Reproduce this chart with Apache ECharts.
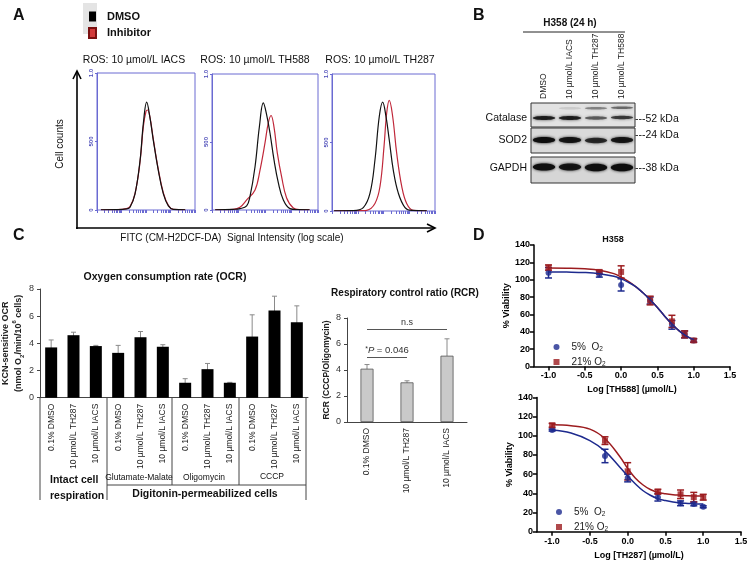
<!DOCTYPE html>
<html>
<head>
<meta charset="utf-8">
<script src="https://cdn.jsdelivr.net/npm/echarts@6/dist/echarts.min.js"></script>
<style>html,body{margin:0;padding:0;background:#fff}#c{width:750px;height:563px}</style>
</head>
<body>
<div id="c"></div>
<script>
// ---------------- DATA ----------------
// Panel A: flow histograms (x = relative log-channel position 0-100, y = cell counts)
const histIacsDmso = [[4,2],[20,3],[30,8],[33.7,20],[38.8,118],[43.9,360],[47.3,632],[50.7,787],[54,676],[57.5,507],[62.6,287],[67.7,118],[72.8,30],[77.9,5],[90,2]];
const histIacsInh  = [[4,2],[20,3],[30,10],[33.7,25],[38.8,120],[43.9,350],[47.3,610],[50,720],[51.5,730],[54,680],[57.5,515],[62.6,295],[67.7,125],[72.8,35],[77.9,5],[90,2]];
const histTh588Dmso = [[3,2],[20,5],[26.4,10],[32.7,30],[35.8,98],[40.6,318],[44.7,612],[48.4,787],[51.6,698],[54.7,566],[58.5,368],[62.6,199],[67.3,74],[73.6,10],[79.9,3],[92,2]];
const histTh588Inh  = [[3,2],[20,5],[26.4,20],[32.7,74],[40.6,147],[45.3,294],[50,493],[53.1,640],[55.7,695],[58.5,610],[61.6,420],[65.7,243],[70.4,88],[76.7,15],[83,3],[92,2]];
const histTh287Dmso = [[2,2],[20.7,3],[30.4,25],[36.9,130],[41.7,372],[45.9,690],[49.2,794],[52.4,690],[55.6,518],[59.5,298],[64.4,130],[70.9,25],[77.4,4],[92,2]];
const histTh287Inh  = [[2,2],[30,3],[33.7,5],[41.7,55],[46.6,180],[50.5,470],[53.1,715],[55.6,807],[58.9,690],[62.8,422],[67.7,180],[72.5,55],[78.9,5],[92,2]];
const histTitles = ['ROS: 10 µmol/L IACS','ROS: 10 µmol/L TH588','ROS: 10 µmol/L TH287'];
const logTicks = [1,2,3,4,5,6,7,8,9,10,20,30,40,50,60,70,80,90,100,200,300,400,500,600,700,800,900,1000,2000,3000,4000,5000,6000,7000,8000,9000,10000];

// Panel B: western blot (lane, band position 0-1, intensity, thickness px)
const blotLanes = ['DMSO','10 µmol/L IACS','10 µmol/L TH287','10 µmol/L TH588'];
const blotRows = ['Catalase','SOD2','GAPDH'];
const blotMarkers = ['---52 kDa','---24 kDa','---38 kDa'];
const catalaseBands = [[0,0.37,0.85,4],[1,0.37,0.85,4],[2,0.37,0.55,3.5],[3,0.40,0.7,3.5],[1,0.78,0.1,2.5],[2,0.78,0.4,2.5],[3,0.80,0.5,2.5]];
const sod2Bands = [[0,0.52,1.0,6],[1,0.52,0.92,6],[2,0.50,0.78,5.5],[3,0.52,0.9,6]];
const gapdhBands = [[0,0.62,1.0,7],[1,0.62,0.92,7],[2,0.60,1.0,7.5],[3,0.60,1.0,7.5]];

// Panel C: OCR
const ocrCats = ['0.1% DMSO','10 µmol/L TH287','10 µmol/L IACS','0.1% DMSO','10 µmol/L TH287','10 µmol/L IACS','0.1% DMSO','10 µmol/L TH287','10 µmol/L IACS','0.1% DMSO','10 µmol/L TH287','10 µmol/L IACS'];
const ocrValues = [3.7,4.6,3.8,3.3,4.45,3.75,1.1,2.1,1.1,4.5,6.42,5.56];
const ocrSD     = [0.55,0.22,0.05,0.55,0.42,0.15,0.3,0.42,0.03,1.6,1.05,1.2];
const ocrGroups = ['Glutamate-Malate','Oligomycin','CCCP'];
// Panel C: RCR
const rcrCats = ['0.1% DMSO','10 µmol/L TH287','10 µmol/L IACS'];
const rcrValues = [4.1,3.05,5.1];
const rcrSD = [0.32,0.12,1.3];

// Panel D
const doseX = [-1,-0.3,0,0.4,0.7,0.875,1.0];
const th588Mean5  = [108,106,94,76,48,37,30];
const th588Sd5    = [6,3,7,4,5,4,2];
const th588Mean21 = [114,109,109,76,52,37,30];
const th588Sd21   = [3,2,7,5,7,4,2];
const fitX = [-1,-0.75,-0.5,-0.3,-0.1,0,0.1,0.2,0.3,0.4,0.5,0.6,0.7,0.8,0.9,1.0];
const th588Fit5  = [109,108.8,108.3,107,104,101,97,92,85,77,68,58,49,41,35,31];
const th588Fit21 = [113.5,113.2,112.5,111,107,103,98,92,85,77,68,58,49,41,35,31];
const th287Mean5  = [106,79,56,36,29.6,29,26];
const th287Sd5    = [1,7,4,4,2.5,2,1];
const th287Mean21 = [111,95,63,41.7,39,36,36];
const th287Sd21   = [2,4,9,2.5,4.5,5,3];
const th287Fit5  = [106,103,95,84,67,58,50,43,38,34.5,32.5,31,30,29.5,29,28.8];
const th287Fit21 = [111.5,110.5,107,97,78,66,56,49,44,41,39.5,38.5,38,37.5,37.3,37.2];
const dTicks = [-1,-0.5,0,0.5,1,1.5];

// ---------------- STYLE ----------------
const F = '"Liberation Sans", Arial, Helvetica, sans-serif';
const BLUEF = '#6a6ad2';
const BLK = '#111';
const REDH = '#c0283a';
const DBLUE = '#1d2a8e';
const DRED = '#9c1c1f';

function errBar(color, cap, lw) {
  return function (params, api) {
    const x = api.value(0), lo = api.value(1), hi = api.value(2);
    const a = api.coord([x, lo]), b = api.coord([x, hi]);
    const st = {stroke: color, lineWidth: lw};
    return {type: 'group', children: [
      {type: 'line', shape: {x1: a[0], y1: a[1], x2: b[0], y2: b[1]}, style: st},
      {type: 'line', shape: {x1: a[0] - cap / 2, y1: a[1], x2: a[0] + cap / 2, y2: a[1]}, style: st},
      {type: 'line', shape: {x1: b[0] - cap / 2, y1: b[1], x2: b[0] + cap / 2, y2: b[1]}, style: st}
    ]};
  };
}
function bandRender(params, api) {
  const lane = api.value(0), pos = api.value(1), inten = api.value(2), th = api.value(3);
  const c = api.coord([lane, pos]);
  const w = api.size([1, 0])[0] * 0.86;
  const col = 'rgba(14,14,14,' + inten + ')';
  return {type: 'ellipse', shape: {cx: c[0], cy: c[1], rx: w / 2, ry: th / 2},
    style: {fill: col, shadowBlur: 3, shadowColor: col}};
}
function errData(xs, means, sds) { return means.map((m, i) => [xs[i], m - sds[i], m + sds[i]]); }
function pairs(xs, ys) { return ys.map((y, i) => [xs[i], y]); }

// grids
const grids = [
  {left: 97, top: 73, width: 98, height: 137},
  {left: 212, top: 74, width: 106, height: 136},
  {left: 332, top: 74, width: 103, height: 137},
  {left: 531, top: 103, width: 104, height: 24},
  {left: 531, top: 128, width: 104, height: 25},
  {left: 531, top: 157, width: 104, height: 26},
  {left: 40, top: 289, width: 268, height: 108.7},
  {left: 347, top: 318, width: 120, height: 104},
  {left: 534, top: 245, width: 196, height: 121.5},
  {left: 537, top: 397.5, width: 204, height: 134.2}
].map((g, i) => Object.assign({outerBoundsMode: 'none', containLabel: false}, g,
  i < 3 ? {show: true, borderColor: BLUEF, borderWidth: 1} :
  i < 6 ? {show: true, borderColor: '#333', borderWidth: 1, backgroundColor: i === 3 ? '#e2e2e2' : (i === 4 ? '#dadada' : '#d6d6d6')} : {}));

const xAxis = [], yAxis = [];
for (let i = 0; i < 3; i++) {
  xAxis.push({type: 'value', gridIndex: i, min: 0, max: 100, show: false, position: 'top'});
  xAxis.push({type: 'log', gridIndex: i, min: 1, max: 10000, position: 'bottom', logBase: 10,
    axisLine: {show: false}, axisLabel: {show: false}, splitLine: {show: false}, minorTick: {show: false},
    axisTick: {show: true, inside: false, length: 3, customValues: logTicks, lineStyle: {color: BLUEF, width: 1}}});
  yAxis.push({type: 'value', gridIndex: i, min: 0, max: 1000, interval: 500,
    axisLine: {show: true, onZero: false, lineStyle: {color: BLUEF}}, splitLine: {show: false},
    axisTick: {show: true, length: 2, lineStyle: {color: BLUEF}},
    axisLabel: {rotate: 90, fontSize: 6, fontWeight: 'bold', color: '#4a4ab8', margin: 3, fontFamily: F,
      formatter: v => v === 1000 ? '1.0' : String(v)}});
}
// blots
for (let i = 0; i < 3; i++) {
  xAxis.push({type: 'category', gridIndex: 3 + i, data: blotLanes, position: 'top',
    axisLine: {show: false}, axisTick: {show: false}, splitLine: {show: false},
    axisLabel: {show: i === 0, rotate: 90, fontSize: 8.5, color: '#222', margin: 4, fontFamily: F}});
  yAxis.push({type: 'value', gridIndex: 3 + i, min: 0, max: 1, show: false});
}
// OCR
xAxis.push({type: 'category', gridIndex: 6, data: ocrCats,
  axisLine: {lineStyle: {color: '#444', width: 1}}, axisTick: {show: false},
  axisLabel: {rotate: 90, fontSize: 8.5, color: '#222', margin: 6, fontFamily: F, interval: 0}});
yAxis.push({type: 'value', gridIndex: 6, min: 0, max: 8, interval: 2,
  axisLine: {show: true, lineStyle: {color: '#444'}}, axisTick: {show: true, length: 3, lineStyle: {color: '#444'}},
  splitLine: {show: false}, axisLabel: {fontSize: 9, color: '#333', margin: 6, fontFamily: F},
  name: '{b|KCN-sensitive OCR}\n{b|(nmol O}{s|2}{b|/min/10}{p|6}{b| cells)}', nameLocation: 'middle', nameGap: 13,
  nameTextStyle: {fontFamily: F, lineHeight: 11, rich: {
    b: {fontWeight: 'bold', fontSize: 9, fontFamily: F, color: '#222'},
    s: {fontWeight: 'bold', fontSize: 6, fontFamily: F, color: '#222', verticalAlign: 'bottom', lineHeight: 8},
    p: {fontWeight: 'bold', fontSize: 6, fontFamily: F, color: '#222', verticalAlign: 'top', lineHeight: 14}}}});
// RCR
xAxis.push({type: 'category', gridIndex: 7, data: rcrCats,
  axisLine: {lineStyle: {color: '#444', width: 1}}, axisTick: {show: false},
  axisLabel: {rotate: 90, fontSize: 8.5, color: '#222', margin: 6, fontFamily: F, interval: 0}});
yAxis.push({type: 'value', gridIndex: 7, min: 0, max: 8, interval: 2,
  axisLine: {show: true, lineStyle: {color: '#444'}}, axisTick: {show: true, length: 3, lineStyle: {color: '#444'}},
  splitLine: {show: false}, axisLabel: {fontSize: 9, color: '#333', margin: 6, fontFamily: F},
  name: 'RCR (CCCP/Oligomycin)', nameLocation: 'middle', nameGap: 16,
  nameTextStyle: {fontFamily: F, fontWeight: 'bold', fontSize: 8.5, color: '#222'}});
// D
[['Log [TH588] (µmol/L)', 8], ['Log [TH287] (µmol/L)', 9]].forEach(([nm, gi], k) => {
  xAxis.push({type: 'value', gridIndex: gi, min: -1.2, max: 1.5,
    axisLine: {show: true, onZero: false, lineStyle: {color: '#000', width: 1.5}},
    axisTick: {show: true, length: 4, customValues: dTicks, lineStyle: {color: '#000', width: 1.5}},
    axisLabel: {customValues: dTicks, fontSize: 9, fontWeight: 'bold', color: '#000', margin: 5, fontFamily: F,
      formatter: v => v.toFixed(1)},
    splitLine: {show: false},
    name: nm, nameLocation: 'middle', nameGap: 19,
    nameTextStyle: {fontFamily: F, fontWeight: 'bold', fontSize: 9, color: '#000'}});
  yAxis.push({type: 'value', gridIndex: gi, min: 0, max: 140, interval: 20,
    axisLine: {show: true, onZero: false, lineStyle: {color: '#000', width: 1.5}},
    axisTick: {show: true, length: 4, lineStyle: {color: '#000', width: 1.5}},
    axisLabel: {fontSize: 9, fontWeight: 'bold', color: '#000', margin: 4, fontFamily: F},
    splitLine: {show: false},
    name: '% Viability', nameLocation: 'middle', nameGap: 21,
    nameTextStyle: {fontFamily: F, fontWeight: 'bold', fontSize: 9, color: '#000'}});
});

// series
const series = [];
const hists = [[histIacsDmso, histIacsInh], [histTh588Dmso, histTh588Inh], [histTh287Dmso, histTh287Inh]];
hists.forEach(([d, r], i) => {
  series.push({type: 'line', name: 'Inhibitor', xAxisIndex: 2 * i, yAxisIndex: i, data: r, showSymbol: false,
    smooth: 0.4, lineStyle: {color: REDH, width: 1.2}, itemStyle: {color: '#d23a3a', borderColor: '#7a1010', borderWidth: 0.8}, silent: true});
  series.push({type: 'line', name: 'DMSO', xAxisIndex: 2 * i, yAxisIndex: i, data: d, showSymbol: false,
    smooth: 0.4, lineStyle: {color: BLK, width: 1.2}, itemStyle: {color: '#000'}, silent: true});
});
[catalaseBands, sod2Bands, gapdhBands].forEach((b, i) => {
  series.push({type: 'custom', xAxisIndex: 6 + i, yAxisIndex: 3 + i, data: b, renderItem: bandRender,
    encode: {x: 0, y: 1}, silent: true});
});
series.push({type: 'bar', xAxisIndex: 9, yAxisIndex: 6, data: ocrValues, barWidth: 12,
  itemStyle: {color: '#000'}, silent: true});
series.push({type: 'custom', xAxisIndex: 9, yAxisIndex: 6, renderItem: errBar('#8a8a8a', 5, 1),
  data: ocrValues.map((v, i) => [i, v - ocrSD[i], v + ocrSD[i]]), encode: {x: 0, y: [1, 2]}, silent: true});
series.push({type: 'bar', xAxisIndex: 10, yAxisIndex: 7, data: rcrValues, barWidth: 13,
  itemStyle: {color: '#c9c9c9', borderColor: '#555', borderWidth: 0.8}, silent: true,
  markLine: {symbol: 'none', silent: true, lineStyle: {color: '#555', width: 1, type: 'solid'},
    label: {show: true, position: 'middle', fontFamily: F, fontSize: 9, color: '#333', distance: 2},
    data: [
      [{coord: [0, 7.13], label: {formatter: 'n.s'}}, {coord: [2, 7.13]}],
      [{coord: [0, 4.95], label: {formatter: '{s|*}{i|P}{n| = 0.046}', rich: {
        s: {fontSize: 7, fontFamily: F, color: '#333', verticalAlign: 'top'},
        i: {fontSize: 9.5, fontStyle: 'italic', fontFamily: F, color: '#333'},
        n: {fontSize: 9.5, fontFamily: F, color: '#333'}}}}, {coord: [1, 4.95]}]
    ]}});
series.push({type: 'custom', xAxisIndex: 10, yAxisIndex: 7, renderItem: errBar('#8a8a8a', 5, 1),
  data: rcrValues.map((v, i) => [i, v - rcrSD[i], v + rcrSD[i]]), encode: {x: 0, y: [1, 2]}, silent: true});

[[11, 8, th588Fit5, th588Fit21, th588Mean5, th588Sd5, th588Mean21, th588Sd21],
 [12, 9, th287Fit5, th287Fit21, th287Mean5, th287Sd5, th287Mean21, th287Sd21]].forEach(([xi, yi, f5, f21, m5, s5, m21, s21]) => {
  series.push({type: 'line', name: 'fit21_' + xi, xAxisIndex: xi, yAxisIndex: yi, data: pairs(fitX, f21), smooth: 0.4,
    showSymbol: false, lineStyle: {color: DRED, width: 1.5}, silent: true});
  series.push({type: 'line', name: 'fit5_' + xi, xAxisIndex: xi, yAxisIndex: yi, data: pairs(fitX, f5), smooth: 0.4,
    showSymbol: false, lineStyle: {color: DBLUE, width: 1.5}, silent: true});
  series.push({type: 'custom', name: 'e5_' + xi, xAxisIndex: xi, yAxisIndex: yi, renderItem: errBar(DBLUE, 7, 1.5),
    data: errData(doseX, m5, s5), encode: {x: 0, y: [1, 2]}, silent: true});
  series.push({type: 'custom', name: 'e21_' + xi, xAxisIndex: xi, yAxisIndex: yi, renderItem: errBar(DRED, 7, 1.5),
    data: errData(doseX, m21, s21), encode: {x: 0, y: [1, 2]}, silent: true});
  series.push({type: 'scatter', name: '5% O2', xAxisIndex: xi, yAxisIndex: yi, data: pairs(doseX, m5),
    symbol: 'circle', symbolSize: 6, itemStyle: {color: DBLUE}, silent: true});
  series.push({type: 'scatter', name: '21% O2', xAxisIndex: xi, yAxisIndex: yi, data: pairs(doseX, m21),
    symbol: 'rect', symbolSize: 6, itemStyle: {color: DRED}, silent: true});
});

const o2Rich = {sp: {width: 7}, a: {fontSize: 10, fontFamily: F, color: '#222'}, sub: {fontSize: 6.5, fontFamily: F, color: '#222', verticalAlign: 'bottom', lineHeight: 8}};
const o2Fmt = n => n === '5% O2' ? '{sp|}{a|5%  O}{sub|2}' : '{sp|}{a|21% O}{sub|2}';
const legend = [
  {data: ['DMSO', 'Inhibitor'], left: 83, top: 6, orient: 'vertical', itemGap: 5, itemWidth: 7, itemHeight: 10,
   icon: 'rect', selectedMode: false, textStyle: {fontFamily: F, fontWeight: 'bold', fontSize: 11, color: '#111', rich: {sp: {width: 6}}},
   formatter: n => '{sp|}' + n},
  {data: ['5% O2', '21% O2'], left: 548.5, top: 336, orient: 'vertical', itemGap: 3, itemWidth: 6, itemHeight: 6,
   selectedMode: false, textStyle: {rich: o2Rich}, formatter: o2Fmt},
  {data: ['5% O2', '21% O2'], left: 551, top: 501, orient: 'vertical', itemGap: 3, itemWidth: 6, itemHeight: 6,
   selectedMode: false, textStyle: {rich: o2Rich}, formatter: o2Fmt}
];

// free text and decorations
function T(text, x, y, font, align, extra) {
  return Object.assign({type: 'text', x: x, y: y, silent: true,
    style: {text: text, font: font, fill: '#111', textAlign: align || 'center', textVerticalAlign: 'middle'}}, extra || {});
}
function L(x1, y1, x2, y2, w, c) {
  return {type: 'line', silent: true, shape: {x1: x1, y1: y1, x2: x2, y2: y2}, style: {stroke: c || '#444', lineWidth: w || 1}};
}
const big = 'bold 16px ' + F;
const graphic = [
  {type: 'rect', silent: true, z: -10, shape: {x: 83, y: 3, width: 14, height: 31}, style: {fill: '#e4e4e4'}},
  T('A', 13, 16, big, 'left'), T('B', 473, 16, big, 'left'), T('C', 13, 236, big, 'left'), T('D', 473, 236, big, 'left'),
  T(histTitles[0], 134, 60, '10.5px ' + F), T(histTitles[1], 255, 60, '10.5px ' + F), T(histTitles[2], 380, 60, '10.5px ' + F),
  T('Cell counts', 60, 144, '10px ' + F, 'center', {rotation: Math.PI / 2}),
  T('FITC (CM-H2DCF-DA)  Signal Intensity (log scale)', 232, 238, '10px ' + F),
  L(77, 229, 77, 72, 1.6, '#000'), {type: 'polyline', silent: true, shape: {points: [[73, 79], [77, 71], [81, 79]]}, style: {stroke: '#000', lineWidth: 1.6, fill: null}},
  L(76, 228, 434, 228, 1.6, '#000'), {type: 'polyline', silent: true, shape: {points: [[427, 224], [435, 228], [427, 232]]}, style: {stroke: '#000', lineWidth: 1.6, fill: null}},
  T('H358 (24 h)', 570, 23, 'bold 10px ' + F), L(523, 32, 625, 32, 1, '#222'),
  T(blotRows[0], 527, 118, '10.5px ' + F, 'right'), T(blotRows[1], 527, 140, '10.5px ' + F, 'right'), T(blotRows[2], 527, 168, '10.5px ' + F, 'right'),
  T(blotMarkers[0], 635, 119, '10.5px ' + F, 'left'), T(blotMarkers[1], 635, 135, '10.5px ' + F, 'left'), T(blotMarkers[2], 635, 168, '10.5px ' + F, 'left'),
  T('Oxygen consumption rate (OCR)', 165, 277, 'bold 10.5px ' + F),
  T('Respiratory control ratio (RCR)', 405, 293, 'bold 10px ' + F),
  L(40, 397, 40, 500), L(107, 397, 107, 500), L(172, 397, 172, 485), L(239, 397, 239, 485), L(306, 397, 306, 500), L(107, 485, 306, 485),
  T(ocrGroups[0], 139, 478, '8.5px ' + F), T(ocrGroups[1], 204, 478, '8.5px ' + F), T(ocrGroups[2], 272, 477, '8.5px ' + F),
  T('Intact cell', 50, 480, 'bold 10.5px ' + F, 'left'), T('respiration', 50, 496, 'bold 10.5px ' + F, 'left'),
  T('Digitonin-permeabilized cells', 205, 494, 'bold 10.5px ' + F),
  T('H358', 613, 240, 'bold 9px ' + F)
];

const chart = echarts.init(document.getElementById('c'), null, {renderer: 'canvas'});
chart.setOption({
  backgroundColor: '#fff', animation: false,
  textStyle: {fontFamily: F},
  grid: grids, xAxis: xAxis, yAxis: yAxis, series: series, legend: legend, graphic: graphic
});
</script>
</body>
</html>
